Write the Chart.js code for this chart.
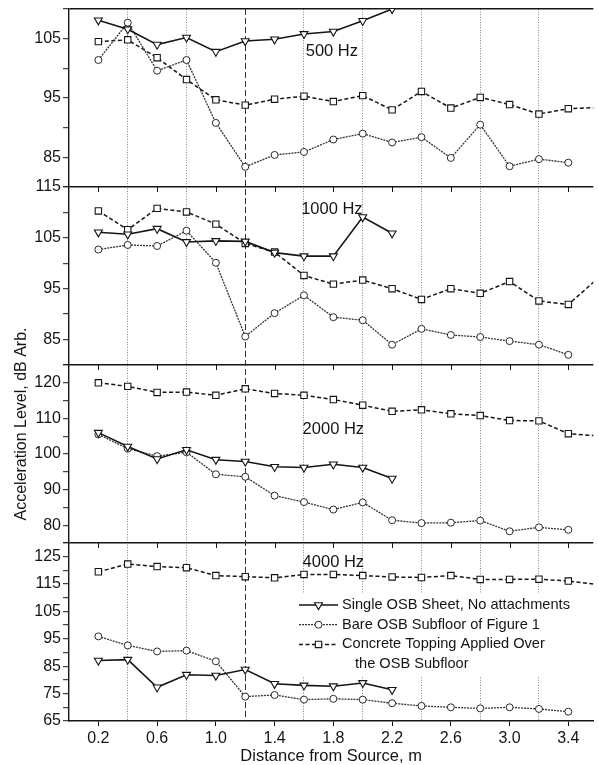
<!DOCTYPE html>
<html>
<head>
<meta charset="utf-8">
<script src="https://cdn.jsdelivr.net/npm/chart.js@4.4.1/dist/chart.umd.min.js"></script>
<style>
  html, body { margin: 0; padding: 0; background: #fff; }
  canvas { display: block; }
</style>
</head>
<body>
<canvas id="chart" width="599" height="765"></canvas>
<script>
// measurement positions, m (concrete series runs one point past the frame)
const distance = [0.2, 0.4, 0.6, 0.8, 1.0, 1.2, 1.4, 1.6, 1.8, 2.0, 2.2, 2.4, 2.6, 2.8, 3.0, 3.2, 3.4];
const distanceExt = [...distance, 3.6];

// 500 Hz
const single500 = [108.1, 106.6, 104.0, 105.2, 102.8, 104.6, 104.9, 105.8, 106.2, 108.0, 110.0];
const bare500 = [101.4, 107.7, 99.6, 101.4, 90.8, 83.4, 85.4, 85.9, 88.0, 89.0, 87.5, 88.4, 84.9, 90.5, 83.5, 84.7, 84.1];
const concrete500 = [104.5, 104.8, 101.8, 98.1, 94.7, 93.8, 94.8, 95.3, 94.4, 95.4, 93.0, 96.1, 93.3, 95.1, 93.9, 92.3, 93.2, 93.4];

// 1000 Hz
const single1000 = [106.1, 105.7, 106.8, 104.2, 104.4, 104.3, 102.1, 101.4, 101.4, 109.1, 105.9];
const bare1000 = [102.7, 103.6, 103.4, 106.4, 100.1, 85.6, 90.2, 93.7, 89.4, 88.8, 84.0, 87.1, 85.9, 85.5, 84.7, 84.0, 82.0];
const concrete1000 = [110.3, 106.6, 110.8, 110.1, 107.7, 103.9, 102.2, 97.6, 95.9, 96.7, 95.0, 92.9, 95.0, 94.1, 96.4, 92.6, 91.9, 97.0];

// 2000 Hz
const single2000 = [106.0, 102.1, 98.6, 101.2, 98.4, 97.9, 96.4, 96.2, 97.1, 96.2, 93.1];
const bare2000 = [105.5, 101.5, 99.4, 100.5, 94.3, 93.6, 88.3, 86.5, 84.4, 86.4, 81.4, 80.6, 80.7, 81.3, 78.3, 79.4, 78.7];
const concrete2000 = [120.0, 119.0, 117.3, 117.4, 116.5, 118.3, 117.0, 116.5, 115.3, 113.7, 112.0, 112.4, 111.3, 110.8, 109.4, 109.3, 105.7, 105.1];

// 4000 Hz
const single4000 = [87.1, 87.4, 77.3, 81.9, 81.6, 83.8, 78.6, 78.0, 77.7, 78.9, 76.4];
const bare4000 = [95.9, 92.6, 90.4, 90.7, 86.8, 73.9, 74.5, 72.8, 73.1, 72.8, 71.5, 70.5, 70.0, 69.6, 70.0, 69.4, 68.4];
const concrete4000 = [119.5, 122.3, 121.4, 121.0, 118.1, 117.7, 117.3, 118.5, 118.5, 118.1, 117.6, 117.4, 118.1, 116.7, 116.7, 116.8, 116.1, 114.8];

// tick labels
const xTickLabels = [0.2, 0.6, 1.0, 1.4, 1.8, 2.2, 2.6, 3.0, 3.4];
const xDotted = [0.4, 0.8, 1.6, 2.0, 2.4, 2.8, 3.2];
const xDashed = [1.2];
const yLabels500 = [85, 95, 105];
const yLabels1000 = [85, 95, 105, 115];
const yLabels2000 = [80, 90, 100, 110, 120];
const yLabels4000 = [65, 75, 85, 95, 105, 115, 125];

const seriesNames = [
  'Single OSB Sheet, No attachments',
  'Bare OSB Subfloor of Figure 1',
  'Concrete Topping Applied Over'
];
const seriesNote = 'the OSB Subfloor';

const FONT = '"Liberation Sans", Arial, Helvetica, sans-serif';
const INK = '#151515';

// panels, top to bottom
const panels = [
  { id: 'y500', title: '500 Hz', min: 80, max: 110, labels: yLabels500, at: [1.79, 102.8],
    single: single500, bare: bare500, concrete: concrete500 },
  { id: 'y1000', title: '1000 Hz', min: 80, max: 115, labels: yLabels1000, at: [1.79, 110.5],
    single: single1000, bare: bare1000, concrete: concrete1000 },
  { id: 'y2000', title: '2000 Hz', min: 75, max: 125, labels: yLabels2000, at: [1.8, 107.0],
    single: single2000, bare: bare2000, concrete: concrete2000 },
  { id: 'y4000', title: '4000 Hz', min: 65, max: 130, labels: yLabels4000, at: [1.8, 122.9],
    single: single4000, bare: bare4000, concrete: concrete4000 }
];

const near = (list, v) => list.some(t => Math.abs(t - v) < 1e-6);
const pts = (xs, ys) => ys.map((y, i) => ({ x: xs[i], y: y }));

const styleSingle = {
  borderColor: INK, borderWidth: 1.6, pointStyle: 'triangle', pointRotation: 180,
  pointRadius: 4.6, pointBackgroundColor: '#fff', pointBorderColor: INK, pointBorderWidth: 1.1
};
const styleBare = {
  borderColor: '#333', borderWidth: 1.3, borderDash: [2, 1], pointStyle: 'circle',
  pointRadius: 3.5, pointBackgroundColor: '#fff', pointBorderColor: '#2a2a2a', pointBorderWidth: 1
};
const styleConcrete = {
  borderColor: INK, borderWidth: 1.5, borderDash: [4, 2.5], pointStyle: 'rect',
  pointRadius: 4.5, pointBackgroundColor: '#fff', pointBorderColor: INK, pointBorderWidth: 1.1
};
const legendStyles = [styleSingle, styleBare, styleConcrete];

const datasets = [];
panels.forEach(p => {
  datasets.push({ label: seriesNames[0], data: pts(distance, p.single), yAxisID: p.id, ...styleSingle });
  datasets.push({ label: seriesNames[1], data: pts(distance, p.bare), yAxisID: p.id, ...styleBare });
  datasets.push({ label: seriesNames[2], data: pts(distanceExt, p.concrete), yAxisID: p.id, ...styleConcrete });
});
datasets.forEach(d => { d.xAxisID = 'x'; d.tension = 0; d.fill = false; });

function yAxis(p) {
  return {
    type: 'linear', position: 'left', stack: 'panels', stackWeight: 1,
    min: p.min, max: p.max,
    ticks: {
      stepSize: 5, autoSkip: false, padding: 2, color: INK,
      font: { family: FONT, size: 16 },
      callback: v => near(p.labels, v) ? String(v) : ''
    },
    grid: {
      color: c => (c.tick && c.tick.value === p.max) ? INK : 'transparent',
      lineWidth: 1.4, tickColor: INK, tickLength: 6, tickWidth: 1
    },
    border: { display: true, color: INK, width: 1.4 },
    afterFit: s => { s.width = 69; s.paddingTop = 0; s.paddingBottom = 0; }
  };
}

// scales: stacked left axes are laid out last-defined on top
const scales = {
  x: {
    type: 'linear', position: 'bottom', min: 0, max: 3.57,
    ticks: {
      stepSize: 0.2, includeBounds: false, autoSkip: false, maxRotation: 0, padding: 3,
      color: INK, font: { family: FONT, size: 16 },
      callback: v => near(xTickLabels, v) ? v.toFixed(1) : ''
    },
    grid: {
      color: c => (c.tick && near(xDotted, c.tick.value)) ? '#808080' : 'transparent',
      lineWidth: 1,
      tickColor: c => (c.tick && near(xTickLabels, c.tick.value)) ? INK : 'transparent',
      tickLength: 5
    },
    border: { display: true, color: INK, width: 1.4, dash: [1, 1.6] },
    title: {
      display: true, text: 'Distance from Source, m', color: INK, padding: 0,
      font: { family: FONT, size: 16.5, lineHeight: 1 }
    },
    afterFit: s => { s.height = 44; s.paddingLeft = 0; s.paddingRight = 0; }
  }
};
[...panels].reverse().forEach(p => { scales[p.id] = yAxis(p); });

const decor = {
  id: 'decor',
  beforeDatasetsDraw(chart) {
    const { ctx, chartArea } = chart;
    const x = chart.scales.x;
    ctx.save();
    // dashed reference line
    ctx.strokeStyle = '#333';
    ctx.lineWidth = 1;
    ctx.setLineDash([6, 3]);
    xDashed.forEach(v => {
      const px = Math.round(x.getPixelForValue(v)) + 0.5;
      ctx.beginPath();
      ctx.moveTo(px, chartArea.top);
      ctx.lineTo(px, chartArea.bottom);
      ctx.stroke();
    });
    // legend backing
    ctx.setLineDash([]);
    ctx.fillStyle = '#fff';
    ctx.fillRect(292, 594, 296, 82);
    ctx.restore();
  },
  afterDatasetsDraw(chart) {
    const { ctx } = chart;
    const x = chart.scales.x;
    ctx.save();
    // inward ticks along the top of the lower panels
    ctx.strokeStyle = INK;
    ctx.lineWidth = 1;
    panels.slice(1).forEach(p => {
      const top = chart.scales[p.id].top;
      xTickLabels.forEach(v => {
        const px = Math.round(x.getPixelForValue(v)) + 0.5;
        ctx.beginPath();
        ctx.moveTo(px, top);
        ctx.lineTo(px, top + 5);
        ctx.stroke();
      });
    });
    // panel frequency labels
    ctx.fillStyle = INK;
    ctx.font = '16.5px ' + FONT;
    ctx.textAlign = 'center';
    ctx.textBaseline = 'middle';
    panels.forEach(p => {
      const y = chart.scales[p.id];
      ctx.fillText(p.title, x.getPixelForValue(p.at[0]), y.getPixelForValue(p.at[1]));
    });
    // legend
    const lx = 299, lw = 39, ly = 605, row = 19.7;
    ctx.font = '14.6px ' + FONT;
    ctx.textAlign = 'left';
    legendStyles.forEach((s, i) => {
      const yy = ly + i * row;
      ctx.strokeStyle = s.borderColor;
      ctx.lineWidth = s.borderWidth;
      ctx.setLineDash(s.borderDash || []);
      ctx.beginPath();
      ctx.moveTo(lx, yy);
      ctx.lineTo(lx + lw, yy);
      ctx.stroke();
      ctx.setLineDash([]);
      ctx.fillStyle = s.pointBackgroundColor;
      ctx.strokeStyle = s.pointBorderColor;
      ctx.lineWidth = s.pointBorderWidth;
      Chart.helpers.drawPoint(ctx, {
        pointStyle: s.pointStyle, rotation: s.pointRotation || 0,
        radius: s.pointRadius, borderWidth: s.pointBorderWidth
      }, lx + lw / 2, yy);
      ctx.fillStyle = INK;
      ctx.fillText(seriesNames[i], lx + lw + 4, yy);
    });
    ctx.fillText(seriesNote, lx + lw + 17, ly + 3 * row);
    ctx.restore();
  },
  afterDraw(chart) {
    const { ctx } = chart;
    ctx.save();
    ctx.fillStyle = INK;
    ctx.font = '16px ' + FONT;
    ctx.textAlign = 'center';
    ctx.textBaseline = 'middle';
    ctx.translate(22, 424);
    ctx.rotate(-Math.PI / 2);
    ctx.fillText('Acceleration Level, dB Arb.', 0, 0);
    ctx.restore();
  }
};

new Chart(document.getElementById('chart'), {
  type: 'line',
  data: { datasets: datasets },
  options: {
    responsive: false,
    animation: false,
    devicePixelRatio: 1,
    layout: { padding: { top: 9, right: 0, bottom: 0, left: 0 } },
    plugins: { legend: { display: false }, tooltip: { enabled: false } },
    scales: scales
  },
  plugins: [decor]
});
</script>
</body>
</html>
